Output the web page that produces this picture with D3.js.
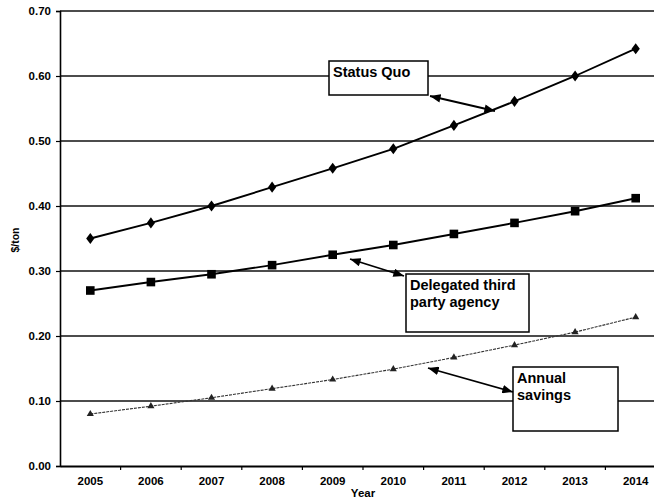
<!DOCTYPE html>
<html>
<head>
<meta charset="utf-8">
<script src="https://cdn.jsdelivr.net/npm/d3@7"></script>
<style>
  html, body { margin: 0; padding: 0; background: #fff; }
  svg { display: block; font-family: "Liberation Sans", Arial, sans-serif; }
</style>
</head>
<body>
<svg id="chart" width="654" height="504"></svg>
<script>
// Cost per ton by year
const years = ["2005", "2006", "2007", "2008", "2009", "2010", "2011", "2012", "2013", "2014"];
const statusQuo = [0.35, 0.374, 0.40, 0.429, 0.458, 0.488, 0.524, 0.561, 0.60, 0.642];
const delegated = [0.27, 0.283, 0.295, 0.309, 0.325, 0.34, 0.357, 0.374, 0.392, 0.412];
const savings = [0.08, 0.092, 0.105, 0.119, 0.133, 0.149, 0.167, 0.186, 0.206, 0.229];
const yTicks = [0, 0.1, 0.2, 0.3, 0.4, 0.5, 0.6, 0.7];

const svg = d3.select("#chart");
const plotLeft = 60, plotRight = 666, plotTop = 11, plotBottom = 466;

const x = d3.scaleBand().domain(years).range([plotLeft, plotRight]).padding(0);
const y = d3.scaleLinear().domain([0, 0.7]).range([plotBottom, plotTop]);
const cx = d => x(d) + x.bandwidth() / 2;

// horizontal gridlines
svg.append("g").selectAll("line")
  .data(yTicks.filter(v => v > 0))
  .join("line")
  .attr("x1", plotLeft).attr("x2", plotRight)
  .attr("y1", d => y(d)).attr("y2", d => y(d))
  .attr("stroke", "#111").attr("stroke-width", 1.3);

// y axis
const yAxis = d3.axisLeft(y).tickValues(yTicks).tickFormat(d3.format(".2f")).tickSize(4).tickPadding(5);
const gy = svg.append("g").attr("transform", `translate(${plotLeft},0)`).call(yAxis);
gy.select(".domain").attr("stroke", "#000").attr("stroke-width", 1.6);
gy.selectAll(".tick line").attr("stroke", "#000").attr("stroke-width", 1.2);
gy.selectAll("text").attr("font-size", 11.5).attr("font-weight", "bold").attr("fill", "#000")
  .attr("font-family", "Liberation Sans, Arial, sans-serif");

// x axis: labels centred on categories, ticks on category boundaries
const xAxis = d3.axisBottom(x).tickSize(0).tickPadding(11);
const gx = svg.append("g").attr("transform", `translate(0,${plotBottom})`).call(xAxis);
gx.select(".domain").attr("stroke", "#000").attr("stroke-width", 1.8);
gx.selectAll("text").attr("font-size", 11.5).attr("font-weight", "bold").attr("fill", "#000")
  .attr("font-family", "Liberation Sans, Arial, sans-serif");
gx.selectAll("line.bound")
  .data(years.slice(1))
  .join("line")
  .attr("class", "bound")
  .attr("x1", d => x(d)).attr("x2", d => x(d))
  .attr("y1", 0).attr("y2", 4)
  .attr("stroke", "#000").attr("stroke-width", 1.2);

// axis titles
svg.append("text")
  .attr("x", (plotLeft + plotRight) / 2).attr("y", 497)
  .attr("text-anchor", "middle")
  .attr("font-size", 11.5).attr("font-weight", "bold")
  .text("Year");
svg.append("text")
  .attr("transform", "translate(19,240) rotate(-90)")
  .attr("text-anchor", "middle")
  .attr("font-size", 10.5).attr("font-weight", "bold")
  .text("$/ton");

// series lines
const lineOf = vals => d3.line().x((d, i) => cx(years[i])).y(d => y(d))(vals);
svg.append("path").attr("d", lineOf(statusQuo))
  .attr("fill", "none").attr("stroke", "#000").attr("stroke-width", 1.9);
svg.append("path").attr("d", lineOf(delegated))
  .attr("fill", "none").attr("stroke", "#000").attr("stroke-width", 1.9);
svg.append("path").attr("d", lineOf(savings))
  .attr("fill", "none").attr("stroke", "#333").attr("stroke-width", 1.1)
  .attr("stroke-dasharray", "3,1");

// markers
svg.append("g").selectAll("path")
  .data(statusQuo)
  .join("path")
  .attr("d", d3.symbol(d3.symbolDiamond, 44))
  .attr("transform", (d, i) => `translate(${cx(years[i])},${y(d)}) scale(1.15,0.9)`)
  .attr("fill", "#000");
svg.append("g").selectAll("rect")
  .data(delegated)
  .join("rect")
  .attr("x", (d, i) => cx(years[i]) - 4.3).attr("y", d => y(d) - 4.3)
  .attr("width", 8.6).attr("height", 8.6)
  .attr("fill", "#000");
svg.append("g").selectAll("path")
  .data(savings)
  .join("path")
  .attr("d", d3.symbol(d3.symbolTriangle, 22))
  .attr("transform", (d, i) => `translate(${cx(years[i])},${y(d)})`)
  .attr("fill", "#222");

// arrowheads
const defs = svg.append("defs");
defs.append("marker").attr("id", "head")
  .attr("viewBox", "0 0 10 8").attr("refX", 10).attr("refY", 4)
  .attr("markerUnits", "userSpaceOnUse")
  .attr("markerWidth", 11).attr("markerHeight", 8.5)
  .attr("orient", "auto-start-reverse")
  .append("path").attr("d", "M0,0 L10,4 L0,8 Z").attr("fill", "#000");

// callout boxes with double-headed arrows
const callouts = [
  { lines: ["Status Quo"], box: [329, 61, 99, 34], arrow: [430, 96, 495, 111] },
  { lines: ["Delegated third", "party agency"], box: [406, 274, 123, 58], arrow: [350, 259, 404, 276] },
  { lines: ["Annual", "savings"], box: [513, 367, 105, 64], arrow: [428, 368, 513, 392] }
];
callouts.forEach(c => {
  const [bx, by, bw, bh] = c.box;
  svg.append("rect")
    .attr("x", bx).attr("y", by).attr("width", bw).attr("height", bh)
    .attr("fill", "#fff").attr("stroke", "#000").attr("stroke-width", 1.5);
  c.lines.forEach((t, k) => {
    svg.append("text")
      .attr("x", bx + 4).attr("y", by + 16 + k * 17)
      .attr("font-size", 14.5).attr("font-weight", "bold").attr("fill", "#000")
      .text(t);
  });
  const [x1, y1, x2, y2] = c.arrow;
  svg.append("line")
    .attr("x1", x1).attr("y1", y1).attr("x2", x2).attr("y2", y2)
    .attr("stroke", "#000").attr("stroke-width", 1.8)
    .attr("marker-start", "url(#head)").attr("marker-end", "url(#head)");
});
</script>
</body>
</html>
